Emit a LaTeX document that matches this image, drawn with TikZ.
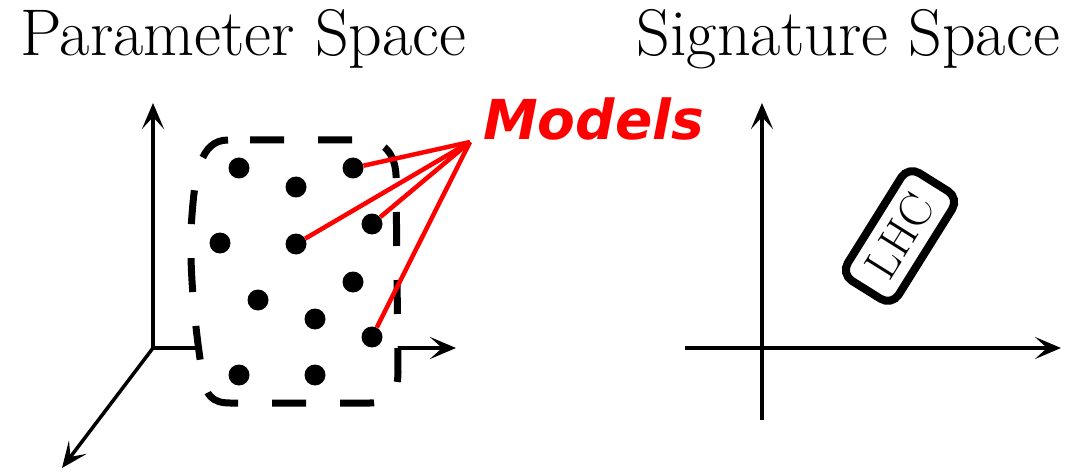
\documentclass[tikz,border=0pt]{standalone}
\usepackage{fontspec}
\usetikzlibrary{arrows.meta}
\newfontfamily\modelsfont{DejaVu Sans}
\begin{document}
\begin{tikzpicture}[x=1pt,y=-1pt,
  axis/.style={line width=4pt, -{Stealth[length=26pt,width=22pt,inset=12pt]}},
  dot/.style={circle, fill=black, inner sep=0pt, minimum size=21pt},
  model/.style={red, line width=4.5pt},
  title/.style={anchor=base west, inner sep=0pt, font=\fontsize{66}{78}\selectfont}
]
\useasboundingbox (0,0) rectangle (1077,476);
\node[title] (ptitle) at (20,56) {Parameter Space};
\node[title, anchor=base east] (stitle) at (1060,56) {Signature Space};

% left axes
\coordinate (O) at (153,348);
\coordinate (yt) at (153,103);
\coordinate (xt) at (456,348);
\coordinate (zt) at (62,468);
\draw[axis] (O) -- (yt);
\draw[axis] (O) -- (xt);
\draw[axis, line width=3.5pt] (O) -- (zt);

% region
\draw[line width=7pt, dash pattern=on 34pt off 34pt, dash phase=-22pt, fill=white]
  (228,140) -- (362,140) .. controls (385,140) and (395,155) .. (396,175)
  -- (398,372) .. controls (398,392) and (390,403) .. (370,403)
  -- (230,403) .. controls (212,403) and (206,395) .. (203,378)
  .. controls (195,330) and (188,260) .. (192,215)
  .. controls (195,175) and (200,140) .. (228,140) -- cycle;

% dots
\node[dot] (d1) at (239,168) {};
\node[dot] (d2) at (353,168) {};
\node[dot] (d3) at (296,187) {};
\node[dot] (d4) at (372,224) {};
\node[dot] (d5) at (220,243) {};
\node[dot] (d6) at (296,244) {};
\node[dot] (d7) at (353,282) {};
\node[dot] (d8) at (258,300) {};
\node[dot] (d9) at (315,319) {};
\node[dot] (d10) at (372,337) {};
\node[dot] (d11) at (239,375) {};
\node[dot] (d12) at (315,375) {};

% models
\coordinate (M) at (470,142);
\draw[model] (M) -- (d2);
\draw[model] (M) -- (d6);
\draw[model] (M) -- (d4);
\draw[model] (M) -- (d10);
\node[anchor=base west, inner sep=0pt, text=red,
  font=\modelsfont\bfseries\itshape\fontsize{55}{66}\selectfont] (models) at (483,140) {Models};

% right axes
\coordinate (vb) at (762,420);
\coordinate (vt) at (762,103);
\coordinate (hl) at (685,348);
\coordinate (hr) at (1061,348);
\draw[axis] (vb) -- (vt);
\draw[axis] (hl) -- (hr);

% LHC
\node[draw, line width=8pt, rounded corners=13pt, rotate=58,
  minimum width=127pt, minimum height=60pt, inner sep=0pt,
  font=\fontsize{46}{54}\selectfont] (lhc) at (900,236) {LHC};
\end{tikzpicture}
\end{document}
